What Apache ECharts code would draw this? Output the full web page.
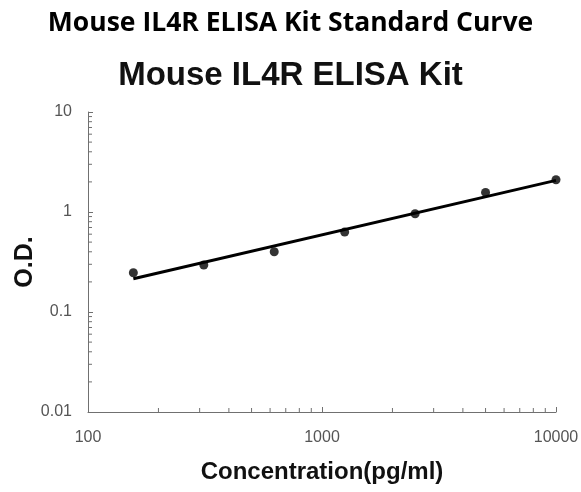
<!DOCTYPE html>
<html>
<head>
<meta charset="utf-8">
<script src="https://cdn.jsdelivr.net/npm/echarts@6/dist/echarts.min.js"></script>
<style>
  html, body { margin: 0; padding: 0; background: #fff; }
  #chart { width: 581px; height: 492px; }
</style>
</head>
<body>
<div id="chart"></div>
<script>
var myChart = echarts.init(document.getElementById('chart'));

// standard points
const concentration = [156.25, 312.5, 625, 1250, 2500, 5000, 10000];
const od = [0.247, 0.295, 0.40, 0.63, 0.96, 1.57, 2.1];

// fitted line end points (straight in log-log space)
const fitX = [156.25, 10000];
const fitY = [0.215, 2.07];

// minor tick positions for the log axes
const xMinor = [200, 300, 400, 500, 600, 700, 800, 900, 2000, 3000, 4000, 5000, 6000, 7000, 8000, 9000];
const yMinor = [0.02, 0.03, 0.04, 0.05, 0.06, 0.07, 0.08, 0.09,
                0.2, 0.3, 0.4, 0.5, 0.6, 0.7, 0.8, 0.9,
                2, 3, 4, 5, 6, 7, 8, 9];

const axisGray = '#707070';
const labelGray = '#555';

const minorData = xMinor.map(v => [v, 0.01, 'x']).concat(yMinor.map(v => [100, v, 'y']));

option = {
    animation: false,
    title: [
        {
            text: 'Mouse IL4R ELISA Kit Standard Curve',
            left: 'center',
            top: 5,
            textStyle: { fontFamily: 'Open Sans', fontWeight: 'bold', fontSize: 26.5, color: '#000' }
        },
        {
            text: 'Mouse IL4R ELISA Kit',
            left: 'center',
            top: 54,
            textStyle: { fontFamily: 'Liberation Sans', fontWeight: 'bold', fontSize: 33, color: '#111' }
        }
    ],
    grid: {
        left: 88,
        right: 25,
        top: 112,
        bottom: 80,
        containLabel: false,
        outerBoundsMode: 'none'
    },
    xAxis: {
        type: 'log',
        logBase: 10,
        min: 100,
        max: 10000,
        name: 'Concentration(pg/ml)',
        nameLocation: 'middle',
        nameGap: 48,
        nameMoveOverlap: false,
        nameTextStyle: { fontFamily: 'Liberation Sans', fontWeight: 'bold', fontSize: 24, color: '#111' },
        axisLine: { lineStyle: { color: axisGray, width: 1 } },
        axisTick: { inside: true, length: 5, lineStyle: { color: axisGray } },
        axisLabel: {
            fontFamily: 'Liberation Sans', fontSize: 16, color: labelGray, margin: 18,
            formatter: v => String(v)
        },
        splitLine: { show: false }
    },
    yAxis: {
        type: 'log',
        logBase: 10,
        min: 0.01,
        max: 10,
        name: 'O.D.',
        nameLocation: 'middle',
        nameGap: 50,
        nameRotate: 90,
        nameMoveOverlap: false,
        nameTextStyle: { fontFamily: 'Liberation Sans', fontWeight: 'bold', fontSize: 25, color: '#111' },
        axisLine: { show: true, lineStyle: { color: axisGray, width: 1 } },
        axisTick: { show: true, inside: true, length: 5, lineStyle: { color: axisGray } },
        axisLabel: {
            fontFamily: 'Liberation Sans', fontSize: 16, color: labelGray, margin: 16,
            formatter: v => String(v)
        },
        splitLine: { show: false }
    },
    series: [
        {
            type: 'custom',
            silent: true,
            clip: false,
            data: minorData,
            renderItem: function (params, api) {
                const p = api.coord([api.value(0), api.value(1)]);
                const isX = minorData[params.dataIndex][2] === 'x';
                return {
                    type: 'line',
                    shape: isX
                        ? { x1: p[0], y1: p[1], x2: p[0], y2: p[1] - 4 }
                        : { x1: p[0], y1: p[1], x2: p[0] + 4, y2: p[1] },
                    style: { stroke: axisGray, lineWidth: 1 }
                };
            }
        },
        {
            type: 'line',
            data: fitX.map((x, i) => [x, fitY[i]]),
            symbol: 'none',
            lineStyle: { color: '#000', width: 3 },
            z: 3
        },
        {
            type: 'scatter',
            data: concentration.map((x, i) => [x, od[i]]),
            symbol: 'circle',
            symbolSize: 9,
            itemStyle: { color: '#000' },
            z: 4
        }
    ]
};

myChart.setOption(option);
</script>
</body>
</html>
